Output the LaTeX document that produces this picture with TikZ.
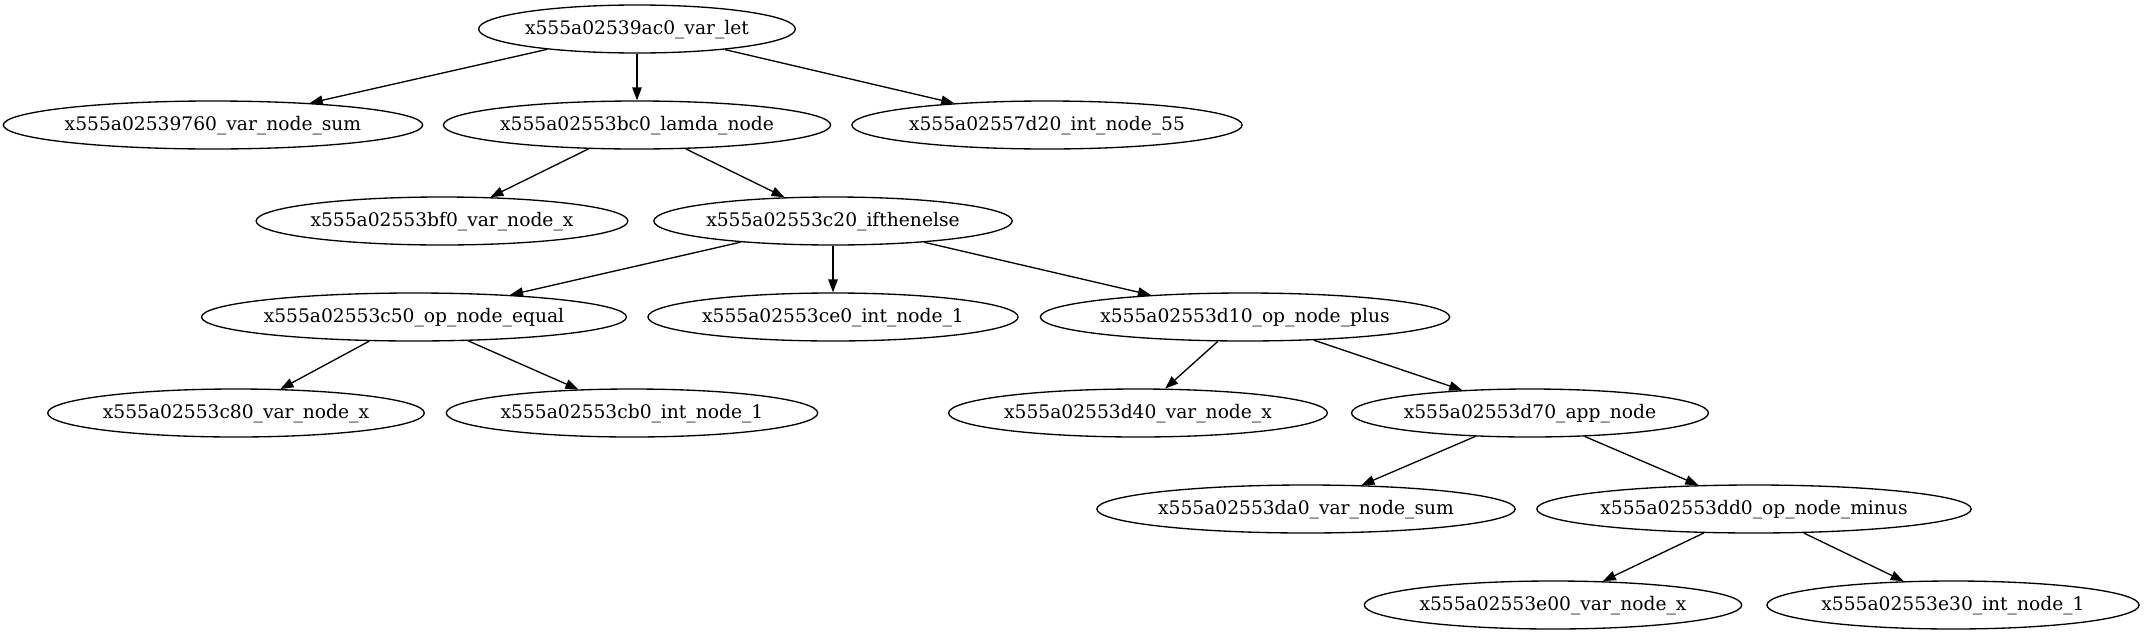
\documentclass[tikz,border=0pt]{standalone}
\usepackage{fontspec}
\setmainfont{DejaVu Serif}
\usetikzlibrary{shapes.geometric,arrows.meta}

\begin{document}
\begin{tikzpicture}[
    x=1pt, y=-1pt,
    tnode/.style={draw, ellipse, line width=1.33pt, minimum height=48pt, inner xsep=0pt, inner ysep=1pt, text height=14pt, text depth=4pt, font=\fontsize{18.67}{22}\selectfont},
    arrow/.style={-{Triangle[length=13pt, width=9.5pt]}, line width=1.33pt}
]
    \useasboundingbox (0,0) rectangle (2144,635);

    \node[tnode] (let) at (637,29) {x555a02539ac0\_var\_let};
    \node[tnode] (sum) at (213,125) {x555a02539760\_var\_node\_sum};
    \node[tnode] (lamda) at (637,125) {x555a02553bc0\_lamda\_node};
    \node[tnode] (int55) at (1047,125) {x555a02557d20\_int\_node\_55};
    \node[tnode] (lamx) at (442,221) {x555a02553bf0\_var\_node\_x};
    \node[tnode] (ifte) at (833,221) {x555a02553c20\_ifthenelse};
    \node[tnode] (equal) at (414,317) {x555a02553c50\_op\_node\_equal};
    \node[tnode] (ifone) at (833,317) {x555a02553ce0\_int\_node\_1};
    \node[tnode] (plus) at (1245,317) {x555a02553d10\_op\_node\_plus};
    \node[tnode] (eqx) at (236,413) {x555a02553c80\_var\_node\_x};
    \node[tnode] (eqone) at (632,413) {x555a02553cb0\_int\_node\_1};
    \node[tnode] (plusx) at (1138,413) {x555a02553d40\_var\_node\_x};
    \node[tnode] (app) at (1530,413) {x555a02553d70\_app\_node};
    \node[tnode] (appsum) at (1306,509) {x555a02553da0\_var\_node\_sum};
    \node[tnode] (minus) at (1754,509) {x555a02553dd0\_op\_node\_minus};
    \node[tnode] (minx) at (1553,605) {x555a02553e00\_var\_node\_x};
    \node[tnode] (minone) at (1953,605) {x555a02553e30\_int\_node\_1};

    \draw[arrow] (let) -- (sum);
    \draw[arrow] (let) -- (lamda);
    \draw[arrow] (let) -- (int55);
    \draw[arrow] (lamda) -- (lamx);
    \draw[arrow] (lamda) -- (ifte);
    \draw[arrow] (ifte) -- (equal);
    \draw[arrow] (ifte) -- (ifone);
    \draw[arrow] (ifte) -- (plus);
    \draw[arrow] (equal) -- (eqx);
    \draw[arrow] (equal) -- (eqone);
    \draw[arrow] (plus) -- (plusx);
    \draw[arrow] (plus) -- (app);
    \draw[arrow] (app) -- (appsum);
    \draw[arrow] (app) -- (minus);
    \draw[arrow] (minus) -- (minx);
    \draw[arrow] (minus) -- (minone);
\end{tikzpicture}
\end{document}
